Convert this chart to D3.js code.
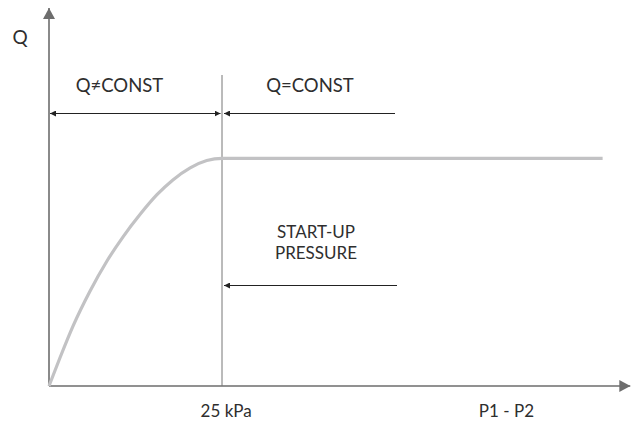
<!DOCTYPE html>
<html><head><meta charset="utf-8">
<script src="https://cdn.jsdelivr.net/npm/d3@7"></script>
<style>html,body{margin:0;padding:0;background:#fff;}svg{display:block;}</style>
</head><body>
<script>
// Data
const pressure = [0, 1.6, 3.5, 5.9, 8.4, 10.7, 13.2, 15.6, 17.9, 20.4, 22.8, 25, 80];
const flow     = [0, 12.5, 26.5, 41.5, 55, 65.5, 75.5, 84, 90.5, 95.8, 99, 100, 100];
const startUp = 25;          // kPa
const arrowEnd = 50;         // kPa
const tickLabels = ["25 kPa", "P1 - P2"];
const tickPos = [25.6, 66.1];
const regionLabels = ["Q≠CONST", "Q=CONST"];
const startLabel = ["START-UP", "PRESSURE"];

const W = 632, H = 426;
const svg = d3.select("body").append("svg").attr("width", W).attr("height", H);
const x = d3.scaleLinear().domain([0, 84]).range([49, 630.3]);
const y = d3.scaleLinear().domain([0, 166]).range([386, 8]);
const font = "Lato, 'Open Sans', sans-serif";

const defs = svg.append("defs");
function mk(id, w, h, fill, ref) {
  defs.append("marker").attr("id", id).attr("viewBox", `0 0 ${w} ${h}`)
    .attr("refX", ref).attr("refY", h/2).attr("markerWidth", w).attr("markerHeight", h)
    .attr("markerUnits", "userSpaceOnUse").attr("orient", "auto-start-reverse")
    .append("path").attr("d", `M0,0L${w},${h/2}L0,${h}Z`).attr("fill", fill);
}
mk("bigArrow", 11, 12, "#6d6d6d", 11);
mk("small", 6, 6, "#222", 6);

// axes
svg.append("line").attr("x1", x(0)).attr("x2", x(84)).attr("y1", y(0)).attr("y2", y(0))
  .attr("stroke", "#6d6d6d").attr("stroke-width", 1.6).attr("marker-end", "url(#bigArrow)");
svg.append("line").attr("x1", x(0)).attr("x2", x(0)).attr("y1", y(0)).attr("y2", y(166))
  .attr("stroke", "#6d6d6d").attr("stroke-width", 1.6).attr("marker-end", "url(#bigArrow)");

// vertical start-up line
svg.append("line").attr("x1", x(startUp)).attr("x2", x(startUp)).attr("y1", y(0)).attr("y2", 75)
  .attr("stroke", "#777").attr("stroke-width", 1);

// curve
const pts = pressure.map((p, i) => [p, flow[i]]);
svg.append("path").datum(pts)
  .attr("d", d3.line().x(d => x(d[0])).y(d => y(d[1])).curve(d3.curveMonotoneX))
  .attr("fill", "none").attr("stroke", "#c2c2c4").attr("stroke-width", 3.2);

// dimension arrows
const yTop = 113.5, yLow = 285.5;
svg.append("line").attr("x1", x(0) + 1).attr("x2", x(startUp) - 1.5).attr("y1", yTop).attr("y2", yTop)
  .attr("stroke", "#222").attr("stroke-width", 1)
  .attr("marker-start", "url(#small)").attr("marker-end", "url(#small)");
svg.append("line").attr("x1", x(startUp) + 2).attr("x2", x(arrowEnd)).attr("y1", yTop).attr("y2", yTop)
  .attr("stroke", "#222").attr("stroke-width", 1).attr("marker-start", "url(#small)");
svg.append("line").attr("x1", x(startUp) + 2).attr("x2", x(arrowEnd) + 2).attr("y1", yLow).attr("y2", yLow)
  .attr("stroke", "#222").attr("stroke-width", 1).attr("marker-start", "url(#small)");

// texts
const txt = (t, xx, yy, size, anchor) => svg.append("text").text(t).attr("x", xx).attr("y", yy)
  .attr("font-family", font).attr("font-size", size).attr("fill", "#2e2e2e").attr("text-anchor", anchor || "middle");
txt("Q", 20, 44, 19);
txt(regionLabels[0], 119.5, 92, 18.5);
txt(regionLabels[1], 310, 92, 18.5);
txt(startLabel[0], 316, 237.5, 17);
txt(startLabel[1], 316, 259, 17);
tickLabels.forEach((t, i) => txt(t, x(tickPos[i]), 417, 17));
</script>
</body></html>
